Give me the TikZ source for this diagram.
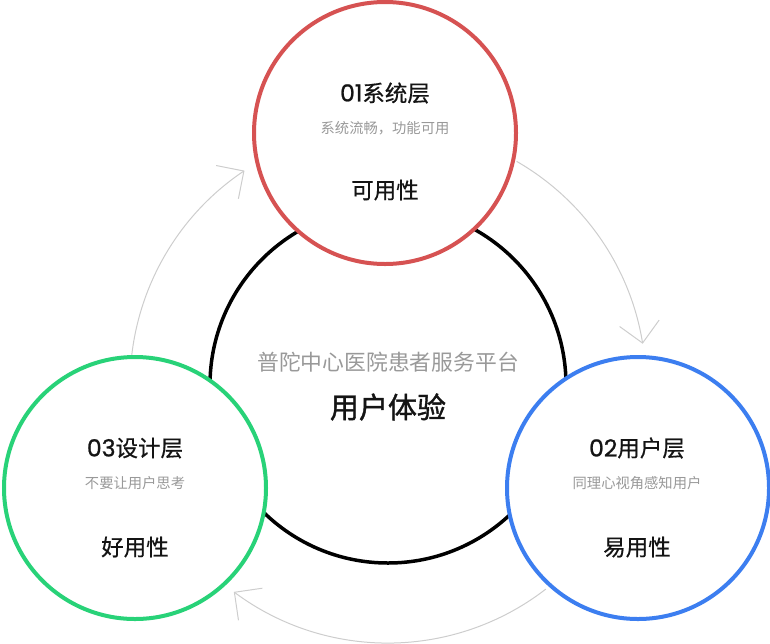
\documentclass[tikz,border=0pt]{standalone}
\usepackage{fontspec}
\usetikzlibrary{arrows.meta,calc}
\newfontfamily\cjk{Noto Sans CJK SC}
\newfontfamily\cjkm[FakeBold=0.6]{Noto Sans CJK SC}
\newfontfamily\cjkb[FakeBold=1.4]{Noto Sans CJK SC}
\newfontfamily\digitfont[FakeBold=1.0]{Poppins}
\definecolor{cred}{RGB}{214,82,82}
\definecolor{cgreen}{RGB}{40,210,120}
\definecolor{cblue}{RGB}{60,126,240}
\definecolor{cgray}{RGB}{153,153,153}
\definecolor{carrow}{RGB}{205,205,205}
\definecolor{ctext}{RGB}{20,20,20}
\newcommand{\dg}[1]{{\digitfont\fontsize{23.5}{24}\selectfont #1}}
\begin{document}
\begin{tikzpicture}[x=1pt,y=-1pt,
  ring/.style={circle, line width=4pt, fill=white, minimum size=262pt, inner sep=0pt},
  title/.style={font=\cjkm\fontsize{22.5}{24}\selectfont, text=ctext},
  sub/.style={font=\cjk\fontsize{14.3}{16}\selectfont, text=cgray},
  cycleline/.style={draw=carrow, line width=1pt, -{Straight Barb[length=20pt,width=40pt,line width=1pt]}}
]
\useasboundingbox (0,0) rectangle (770,643);
% central circle
\node[circle, draw=black, line width=3.5pt, minimum size=356pt, inner sep=0pt] (C) at (388,385) {};
\coordinate (O) at (388,385);
% cycle arrows
\draw[cycleline] ([shift={(60.1:258pt)}]O) arc[start angle=60.1, end angle=9.2, radius=258pt];
\draw[cycleline] ([shift={(-52.3:258pt)}]O) arc[start angle=-52.3, end angle=-126.7, radius=258pt];
\draw[cycleline] ([shift={(173.4:258pt)}]O) arc[start angle=173.4, end angle=123.8, radius=258pt];
% outer circles
\node[ring, draw=cred] (R) at (385,133) {};
\node[ring, draw=cgreen] (G) at (135,488) {};
\node[ring, draw=cblue] (B) at (638,488) {};
% texts top
\node[title] (t1) at (385,93) {\dg{01}系统层};
\node[sub] (s1) at (385,128) {系统流畅，功能可用};
\node[title] (u1) at (385,190) {可用性};
% center texts
\node[font=\cjk\fontsize{21.8}{23}\selectfont, text=cgray] (c1) at (388,362) {普陀中心医院患者服务平台};
\node[font=\cjkb\fontsize{29}{31}\selectfont, text=ctext] (c2) at (388,407) {用户体验};
% right
\node[title] (t2) at (637,448) {\dg{02}用户层};
\node[sub] (s2) at (637,483) {同理心视角感知用户};
\node[title] (u2) at (637,547) {易用性};
% left
\node[title] (t3) at (135,448) {\dg{03}设计层};
\node[sub] (s3) at (135,483) {不要让用户思考};
\node[title] (u3) at (135,547) {好用性};
\end{tikzpicture}
\end{document}
